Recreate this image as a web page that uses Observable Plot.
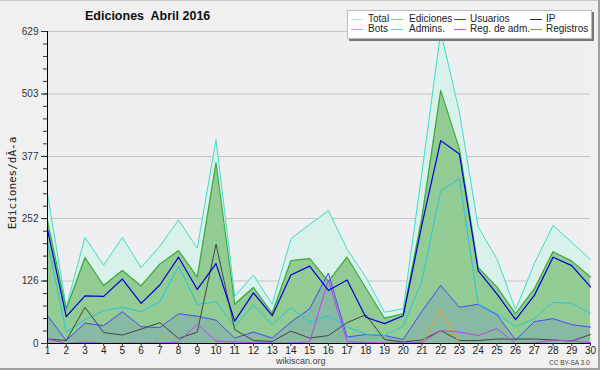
<!DOCTYPE html>
<html><head><meta charset="utf-8">
<script src="https://cdn.jsdelivr.net/npm/d3@7"></script>
<script src="https://cdn.jsdelivr.net/npm/@observablehq/plot@0.6"></script>
<style>
body{margin:0;background:#f0f0f0;}
#wrap{position:relative;width:600px;height:370px;background:#f0f0f0;overflow:hidden;font-family:"Liberation Sans",Arial,sans-serif;}
#wrap svg{position:absolute;left:0;top:0;}
.abs{position:absolute;white-space:nowrap;}
#title{left:85px;top:9px;font-weight:bold;font-size:12.5px;color:#111;}
#ylab{left:12px;top:183px;transform:translate(-50%,-50%) rotate(-90deg);font-family:"DejaVu Sans Mono",monospace;font-size:11px;color:#222;}
#legend{left:347px;top:10px;width:243px;height:27px;background:#fff;border:1px solid #bbb;box-shadow:2px 2px 0 #777;}
.lg-line{position:absolute;height:1px;width:12px;}
.lg-text{position:absolute;font-size:10px;color:#222;line-height:10px;}
#site{left:276px;top:356px;font-size:9px;color:#444;}
#cc{left:549px;top:359px;font-size:6.5px;color:#444;}
.edge{position:absolute;}
</style>
</head><body>
<div id="wrap">
<div id="chart"></div>
<div class="abs" id="title">Ediciones&nbsp; Abril 2016</div>
<div class="abs" id="ylab">Ediciones/dÃ-a</div>
<div class="abs" id="legend"></div>
<div class="abs" id="site">wikiscan.org</div>
<div class="abs" id="cc">CC BY-SA 3.0</div>
<div class="edge" style="left:0;top:0;width:600px;height:1px;background:#c8c8c8"></div>
<div class="edge" style="left:0;top:368px;width:600px;height:2px;background:#a0a0a0"></div>
<div class="edge" style="left:598px;top:0;width:2px;height:370px;background:#a0a0a0"></div>
</div>
<script>
const days = [1,2,3,4,5,6,7,8,9,10,11,12,13,14,15,16,17,18,19,20,21,22,23,24,25,26,27,28,29,30];
const total     = [302,73,214,158,214,153,196,249,192,411,95,138,79,211,240,268,190,134,63,70,345,629,466,235,171,68,161,238,204,169];
const ediciones = [247,69,173,117,147,116,160,187,134,364,79,113,61,167,171,125,174,112,51,60,255,510,392,153,114,60,110,185,166,134];
const usuarios  = [230,54,96,95,130,81,118,174,109,161,45,102,56,138,156,107,128,53,40,56,240,409,382,147,100,48,97,174,157,114];
const ip        = [9,6,73,22,17,29,42,10,23,200,28,6,4,25,11,16,42,58,8,3,7,26,6,6,9,9,9,7,5,18];
const bots      = [0,0,0,0,0,0,0,0,0,0,0,0,0,0,0,0,0,0,0,0,0,68,0,0,0,0,0,0,0,0];
const admins    = [204,23,48,66,73,64,84,156,79,84,34,78,38,72,43,56,33,19,16,35,127,308,332,80,60,34,50,83,81,61];
const regAdm    = [9,0,3,0,1,1,1,3,39,5,3,2,1,1,3,128,4,2,1,1,2,26,23,16,30,0,1,7,5,2];
const registros = [56,6,41,36,64,34,32,60,55,47,11,23,11,43,70,142,13,18,16,8,65,117,73,79,58,7,44,50,38,33];

const yTicks = [0,126,252,377,503,629];
const yMax = 629;
const seriesNames = ["Total","Ediciones","Usuarios","IP","Bots","Admins.","Reg. de adm.","Registros"];
const legendColors = ["#a8eeee","#77cc77","#3333ff","#333333","#ffa030","#33ddee","#dd44ff","#7777ff"];

const rows = days.map((d,i)=>({day:d,total:total[i],ediciones:ediciones[i],usuarios:usuarios[i],ip:ip[i],bots:bots[i],admins:admins[i],regAdm:regAdm[i],registros:registros[i]}));
const minorTicks = d3.range(0, 26).map(k => k*yMax/25);

const line = (key, stroke, w=1) => Plot.lineY(rows,{x:"day",y:key,stroke,strokeWidth:w});

const plot = Plot.plot({
  width:600, height:370,
  marginLeft:47, marginRight:10, marginTop:31, marginBottom:27,
  style:{background:"transparent",fontFamily:"Liberation Sans, Arial, sans-serif",fontSize:"10px",color:"#333"},
  x:{domain:[1,30]},
  y:{domain:[0,yMax]},
  marks:[
    Plot.frame({fill:"#eeeff1",stroke:null}),
    Plot.gridY(yTicks,{stroke:"#c4c4c4",strokeOpacity:1}),
    Plot.areaY(rows,{x:"day",y:"total",fill:"#d8f1ea"}),
    Plot.areaY(rows,{x:"day",y:"ediciones",fill:"#92cb94"}),
    Plot.areaY(rows,{x:"day",y:"registros",fill:"#4a50ff",fillOpacity:0.14}),
    line("total","#40dcc8"),
    line("ediciones","#3aaa3a",1.2),
    line("registros","#4a4aff"),
    line("admins","#22c8dc"),
    line("ip","#444444"),
    line("bots","#f09a30"),
    line("regAdm","#c040f0"),
    line("usuarios","#0000d8",1.2),
    Plot.ruleY([0],{stroke:"#000"}),
    Plot.ruleX([1],{stroke:"#000"}),
    Plot.axisY({ticks:yTicks,tickSize:6,tickPadding:3,label:null,fill:"#333"}),
    Plot.axisY({ticks:minorTicks,tickSize:4,tickFormat:()=>"",label:null}),
    Plot.axisX({ticks:days,tickSize:3,tickPadding:0,label:null,fill:"#222",tickFormat:d=>String(d)})
  ]
});
document.getElementById("chart").appendChild(plot);

const lg = document.getElementById("legend");
const colLine = [3,43,106,182];
const colText = [20,61,122,198];
seriesNames.forEach((name,i)=>{
  const c = i%4, r = Math.floor(i/4);
  const l = document.createElement("div");
  l.className="lg-line"; l.style.left=colLine[c]+"px"; l.style.top=(8+r*10)+"px"; l.style.background=legendColors[i];
  lg.appendChild(l);
  const t = document.createElement("div");
  t.className="lg-text"; t.style.left=colText[c]+"px"; t.style.top=(3+r*10)+"px"; t.textContent=name;
  lg.appendChild(t);
});
</script>
</body></html>
